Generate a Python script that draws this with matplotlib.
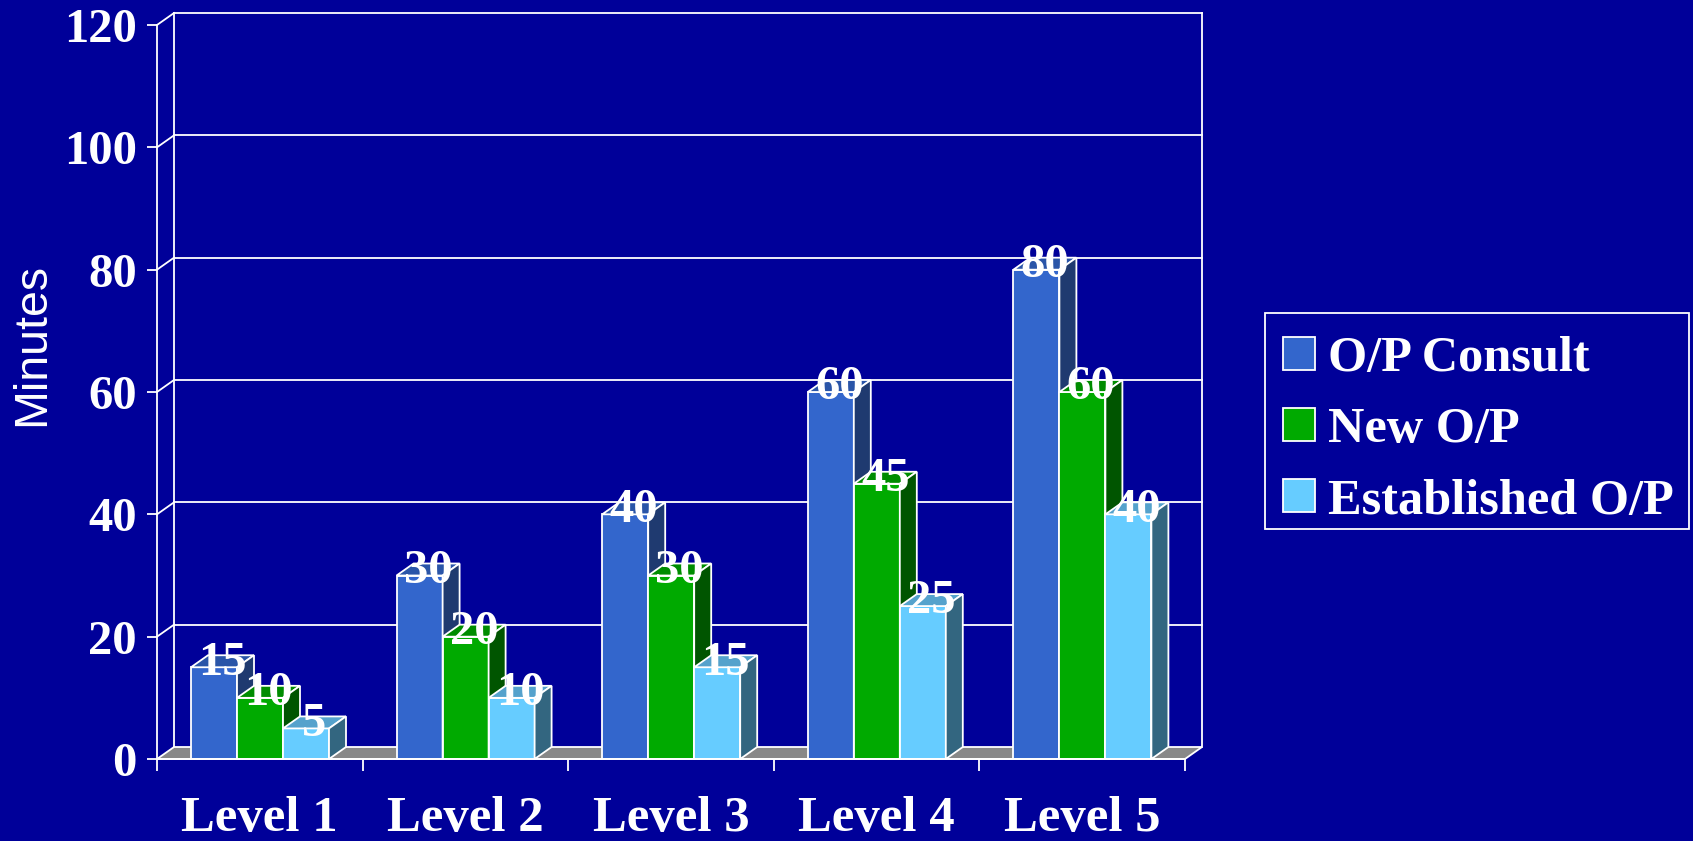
import numpy as np
import matplotlib
matplotlib.use('Agg')
import matplotlib.pyplot as plt
from matplotlib.patches import Polygon, Patch, Rectangle

levels = ['Level 1', 'Level 2', 'Level 3', 'Level 4', 'Level 5']
series = ['O/P Consult', 'New O/P', 'Established O/P']
consult = [15, 30, 40, 60, 80]
new_op = [10, 20, 30, 45, 60]
established = [5, 10, 15, 25, 40]
y_ticks = [0, 20, 40, 60, 80, 100, 120]

bg = '#000099'
# front, top, side shades for each series
shades = [('#3366CC', '#2A55A8', '#1F3A70'),
          ('#00AA00', '#008C00', '#005500'),
          ('#66CCFF', '#55A2CC', '#336680')]

W, H, DPI = 1693, 841, 100
fig = plt.figure(figsize=(W / DPI, H / DPI), dpi=DPI, facecolor=bg)
left, right, bottom, top = 157, 1185, 759, 25
ax = fig.add_axes([left / W, 1 - bottom / H, (right - left) / W, (bottom - top) / H])
ax.set_facecolor('none')
ax.set_xlim(0, 5)
ax.set_ylim(0, 120)

# depth of the pseudo-3d box in data units
dx = 17 / ((right - left) / 5)
dy = 12 / ((bottom - top) / 120)
lw = 1.3
ymax = y_ticks[-1]

# floor
ax.add_patch(Polygon([(0, 0), (5, 0), (5 + dx, dy), (dx, dy)], closed=True,
                     facecolor='#888888', edgecolor='white', lw=lw, zorder=1, clip_on=False))
# back wall and grid
for v in y_ticks[1:]:
    ax.plot([dx, 5 + dx], [v + dy, v + dy], color='white', lw=lw, zorder=0.5, clip_on=False)
    ax.plot([0, dx], [v, v + dy], color='white', lw=lw, zorder=0.5, clip_on=False)
ax.plot([dx, dx], [dy, ymax + dy], color='white', lw=lw, zorder=0.5, clip_on=False)
ax.plot([5 + dx, 5 + dx], [dy, ymax + dy], color='white', lw=lw, zorder=0.5, clip_on=False)

gap = 34 / ((right - left) / 5)
bw = 46 / ((right - left) / 5)
z = 2
for i, level in enumerate(levels):
    for j, vals in enumerate([consult, new_op, established]):
        h = vals[i]
        x0 = i + gap + j * bw
        x1 = x0 + bw
        front, topc, side = shades[j]
        ax.bar(x0, h, bw, align='edge', color=front, edgecolor='white', lw=lw, zorder=z)
        ax.add_patch(Polygon([(x0, h), (x1, h), (x1 + dx, h + dy), (x0 + dx, h + dy)],
                             closed=True, facecolor=topc, edgecolor='white', lw=lw,
                             zorder=z, clip_on=False))
        ax.add_patch(Polygon([(x1, 0), (x1 + dx, dy), (x1 + dx, h + dy), (x1, h)],
                             closed=True, facecolor=side, edgecolor='white', lw=lw,
                             zorder=z, clip_on=False))
        z += 0.1
        ax.text(x0 + bw / 2 + dx / 2, h - 1.2, str(h), ha='center', va='baseline',
                color='white', fontsize=35, fontweight='bold', family='Liberation Serif',
                zorder=10, clip_on=False)

for s in ['top', 'right']:
    ax.spines[s].set_visible(False)
for s in ['left', 'bottom']:
    ax.spines[s].set_color('white')
    ax.spines[s].set_linewidth(lw)
    ax.spines[s].set_zorder(9)

ax.set_yticks(y_ticks)
ax.set_yticklabels([str(v) for v in y_ticks])
ax.set_xticks(range(6))
ax.set_xticklabels([])
ax.set_xticks(np.arange(5) + 0.5, levels, minor=True)
ax.tick_params(axis='both', which='major', colors='white', width=lw)
ax.tick_params(axis='y', which='major', length=7.5, pad=7)
ax.tick_params(axis='x', which='major', length=8.5)
ax.tick_params(axis='x', which='minor', length=0, pad=26.5)
for lab in ax.get_yticklabels():
    lab.set_fontsize(35)
    lab.set_fontweight('bold')
    lab.set_family('Liberation Serif')
    lab.set_color('white')
for lab in ax.get_xticklabels(minor=True):
    lab.set_fontsize(36.5)
    lab.set_fontweight('bold')
    lab.set_family('Liberation Serif')
    lab.set_color('white')

fig.text(32 / W, 1 - 344 / H, 'Minutes', rotation=90, ha='center', va='center',
         color='white', fontsize=33.5, family='Liberation Sans')

# legend box
fig.patches.append(Rectangle((1265 / W, 1 - 529 / H), 424 / W, 216 / H,
                             transform=fig.transFigure, facecolor='none',
                             edgecolor='white', lw=lw))
handles = [Patch(facecolor=s[0], edgecolor='white', lw=lw) for s in shades]
leg = ax.legend(handles, series, loc='upper left',
                bbox_to_anchor=(1268 / W, 1 - 321 / H), bbox_transform=fig.transFigure,
                borderaxespad=0, frameon=False,
                handlelength=0.63, handleheight=0.63,
                handletextpad=0.27, labelspacing=0.5, borderpad=0.3,
                prop={'family': 'Liberation Serif', 'weight': 'bold', 'size': 36.3})
for t in leg.get_texts():
    t.set_color('white')

fig.savefig('out.png', dpi=DPI, facecolor=bg)
